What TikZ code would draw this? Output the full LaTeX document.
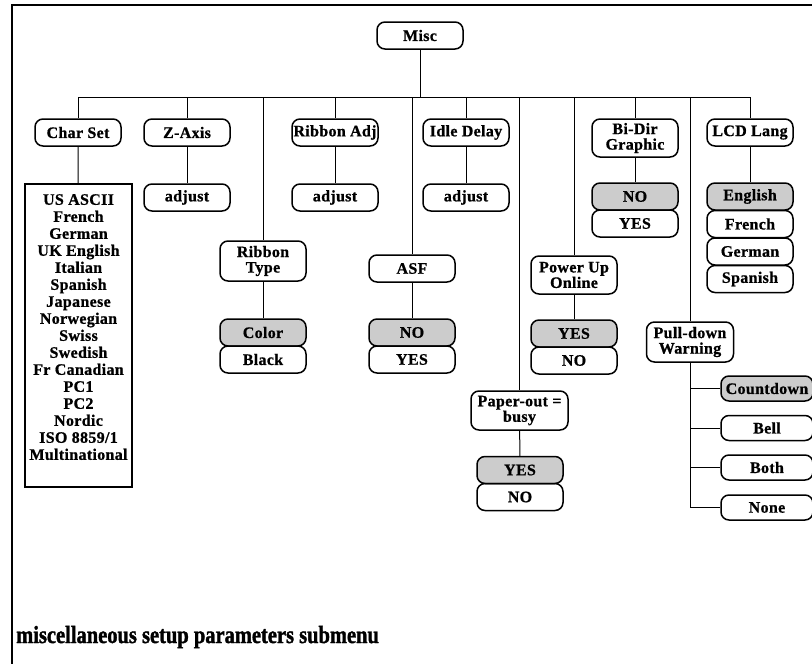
\documentclass[tikz,border=0pt]{standalone}
\usepackage{fontspec}
\usepackage{graphicx}
\newfontfamily\nodefont[LetterSpace=2, BoldFeatures={FakeBold=0.8}]{Liberation Serif}
\newfontfamily\captionfont[BoldFeatures={FakeBold=1.6}]{Liberation Serif}
\begin{document}
\begin{tikzpicture}[x=1pt,y=-1pt,
  menubox/.style={draw, line width=1.5pt, rounded corners=8pt,
    minimum width=86pt, minimum height=27pt, inner sep=0pt, align=center,
    font=\nodefont\bfseries\fontsize{16}{15.5}\selectfont},
  tallbox/.style={menubox, minimum height=39pt},
  pick/.style={menubox, fill=black!20},
  link/.style={line width=1pt},
  frameline/.style={line width=2.2pt}]
\useasboundingbox (0,0) rectangle (812,664);

% outer frame (top and left edges)
\coordinate (fa) at (12,664);
\coordinate (fb) at (12,5);
\coordinate (fc) at (814,5);
\draw[frameline] (fa) -- (fb) -- (fc);

% root
\node[menubox] (misc) at (420,35.5) {Misc};
\coordinate (busy) at (0,97);

% first level
\node[menubox] (charset) at (78,132.5) {Char Set};
\node[menubox] (zaxis)   at (187,132.5) {Z-Axis};
\node[menubox] (ribadj)  at (335,132.5) {Ribbon Adj};
\node[menubox] (idle)    at (466,132.5) {Idle Delay};
\node[menubox, minimum height=38pt] (bidir) at (635,138) {Bi-Dir\\Graphic};
\node[menubox] (lcd)     at (750,132.5) {LCD Lang};
\node[tallbox, minimum height=40pt] (ribtype) at (263,261) {Ribbon\\Type};
\node[menubox] (asf)     at (412,268.5) {ASF};
\node[tallbox, minimum width=97pt] (paperout) at (519.5,410.5) {Paper-out =\\busy};
\node[tallbox, minimum height=38pt] (powerup) at (574,275) {Power Up\\Online};
\node[tallbox, minimum height=40pt, minimum width=87pt] (pulldown) at (690,342) {Pull-down\\Warning};

% bus and drops
\draw[link] (misc.south) -- (misc.south |- busy);
\draw[link] (charset.north |- busy) -- (lcd.north |- busy);
\foreach \n in {charset,zaxis,ribtype,ribadj,asf,idle,paperout,powerup,bidir,pulldown,lcd}
  \draw[link] (\n.north |- busy) -- (\n.north);

% character sets
\node[draw, line width=1.5pt, minimum width=107pt, minimum height=303pt] (charlist) at (78.5,335.5) {};
\node[anchor=north, align=center, inner sep=0pt,
  font=\nodefont\bfseries\fontsize{16}{17}\selectfont] (charnames) at (78.5,194)
  {US ASCII\\French\\German\\UK English\\Italian\\Spanish\\Japanese\\Norwegian\\Swiss\\Swedish\\Fr Canadian\\PC1\\PC2\\Nordic\\ISO 8859/1\\Multinational};
\draw[link] (charset) -- (charlist);

% adjust entries
\node[menubox] (zadj)   at (187,197.5) {adjust};
\node[menubox] (ribval) at (335,197.5) {adjust};
\node[menubox] (idleadj) at (466,197.5) {adjust};
\draw[link] (zaxis) -- (zadj);
\draw[link] (ribadj) -- (ribval);
\draw[link] (idle) -- (idleadj);

% ribbon type
\node[pick]    (color) at (263,332.5) {Color};
\node[menubox] (black) at (263,359.5) {Black};
\draw[link] (ribtype) -- (color);

% ASF
\node[pick]    (asfno)  at (412,332.5) {NO};
\node[menubox] (asfyes) at (412,359.5) {YES};
\draw[link] (asf) -- (asfno);

% paper-out
\node[pick]    (poyes) at (520,470) {YES};
\node[menubox] (pono)  at (520,497) {NO};
\draw[link] (paperout) -- (poyes);

% power up online
\node[pick]    (puyes) at (574,333.5) {YES};
\node[menubox] (puno)  at (574,360.5) {NO};
\draw[link] (powerup) -- (puyes);

% bi-directional graphic
\node[pick]    (bdno)  at (635,196.5) {NO};
\node[menubox] (bdyes) at (635,223.5) {YES};
\draw[link] (bidir) -- (bdno);

% LCD language
\node[pick]    (english) at (750,196.5) {English};
\node[menubox] (french)  at (750,224) {French};
\node[menubox] (german)  at (750,251.5) {German};
\node[menubox] (spanish) at (750,279) {Spanish};
\draw[link] (lcd) -- (english);

% pull-down warning
\node[pick, minimum width=92pt, minimum height=25pt]    (countdown) at (767,388.5) {Countdown};
\node[menubox, minimum width=92pt, minimum height=25pt] (bell) at (767,428) {Bell};
\node[menubox, minimum width=92pt, minimum height=25pt] (both) at (767,467.5) {Both};
\node[menubox, minimum width=92pt, minimum height=25pt] (none) at (767,507.5) {None};
\draw[link] (pulldown.south) -- (pulldown.south |- none.west) -- (none.west);
\foreach \n in {countdown,bell,both}
  \draw[link] (pulldown.south |- \n.west) -- (\n.west);

% caption
\node[anchor=base west, inner sep=0pt,
  font=\captionfont\bfseries\fontsize{20.5}{24}\selectfont] (caption) at (16,643)
  {\scalebox{1}[1.2]{miscellaneous setup parameters submenu}};
\end{tikzpicture}
\end{document}
